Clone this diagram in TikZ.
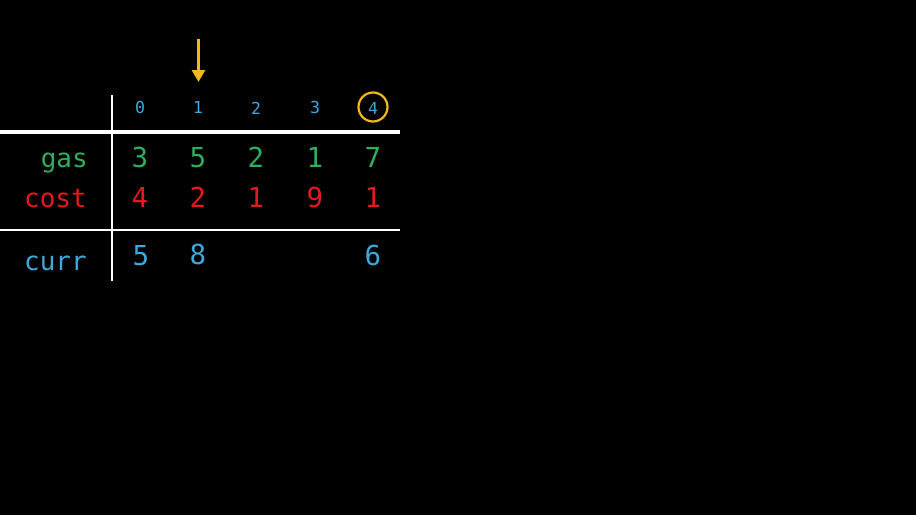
\documentclass[tikz,border=0pt]{standalone}
\usepackage{fontspec}
\setmonofont{DejaVu Sans Mono}
\usetikzlibrary{arrows.meta}
\definecolor{idxblue}{HTML}{3DA8DC}
\definecolor{gasgreen}{HTML}{2FAE5E}
\definecolor{costred}{HTML}{E3191E}
\definecolor{ptrorange}{HTML}{F4B71C}

\begin{document}
\begin{tikzpicture}[x = 1pt, y = -1pt,
	idx/.style = {text = idxblue, font = \ttfamily\fontsize{16.5}{16.5}\selectfont, inner sep = 0pt, anchor = base},
	val/.style = {font = \ttfamily\fontsize{27.5}{27.5}\selectfont, inner sep = 0pt, anchor = base},
	lbl/.style = {font = \ttfamily\fontsize{26}{26}\selectfont, inner sep = 0pt, anchor = base east}]
	\fill[black] (0, 0) rectangle (916, 515);
	\useasboundingbox (0, 0) rectangle (916, 515);
	% table lines
	\draw[white, line width = 2.4pt] (112, 95) -- (112, 281);
	\draw[white, line width = 3.6pt] (0, 132) -- (400, 132);
	\draw[white, line width = 2.4pt] (0, 230) -- (400, 230);
	% indices
	\node[idx] (i0) at (140, 113) {0};
	\node[idx] (i1) at (198, 113) {1};
	\node[idx] (i2) at (256, 114) {2};
	\node[idx] (i3) at (315, 113) {3};
	\node[idx] (i4) at (373, 114) {4};
	\draw[ptrorange, line width = 2.2pt] (373, 107) circle (14.5);
	% labels
	\node[lbl, text = gasgreen] (gas) at (88, 167) {gas};
	\node[lbl, text = costred] (cost) at (87, 207) {cost};
	\node[lbl, text = idxblue] (curr) at (87, 270) {curr};
	% gas
	\node[val, text = gasgreen] (g0) at (140, 167) {3};
	\node[val, text = gasgreen] (g1) at (198, 167) {5};
	\node[val, text = gasgreen] (g2) at (256, 167) {2};
	\node[val, text = gasgreen] (g3) at (315, 167) {1};
	\node[val, text = gasgreen] (g4) at (373, 167) {7};
	% cost
	\node[val, text = costred] (c0) at (140, 207) {4};
	\node[val, text = costred] (c1) at (198, 207) {2};
	\node[val, text = costred] (c2) at (256, 207) {1};
	\node[val, text = costred] (c3) at (315, 207) {9};
	\node[val, text = costred] (c4) at (373, 207) {1};
	% curr
	\node[val, text = idxblue] (r0) at (141, 265) {5};
	\node[val, text = idxblue] (r1) at (198, 264) {8};
	\node[val, text = idxblue] (r4) at (373, 265) {6};
	% pointer
	\coordinate (ptr) at (198.5, 39);
	\coordinate (ptrend) at (198.5, 82);
	\draw[ptrorange, line width = 3pt, -{Triangle[length = 12pt, width = 13pt]}] (ptr) -- (ptrend);
\end{tikzpicture}
\end{document}
